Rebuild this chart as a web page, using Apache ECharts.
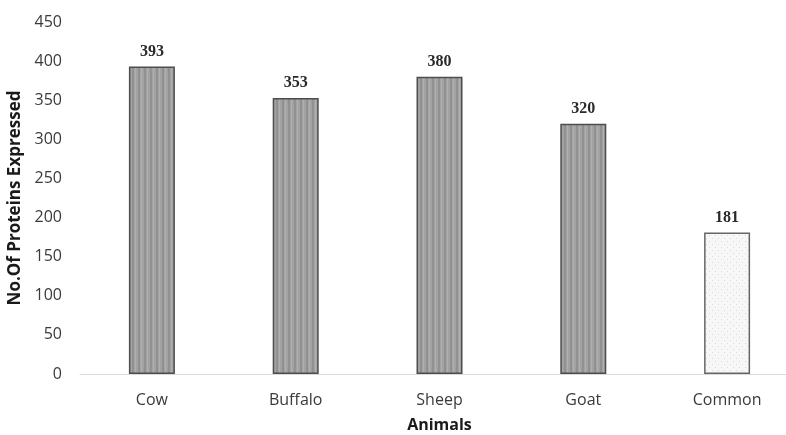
<!DOCTYPE html>
<html><head><meta charset="utf-8">
<script src="https://cdn.jsdelivr.net/npm/echarts@6/dist/echarts.min.js"></script>
<style>html,body{margin:0;padding:0;background:#fff}#c{width:786px;height:435px}</style>
</head><body><div id="c"></div>
<script>
var categories = ['Cow', 'Buffalo', 'Sheep', 'Goat', 'Common'];
var values = [393, 353, 380, 320, 181];
var yTicks = [0, 50, 100, 150, 200, 250, 300, 350, 400, 450];

function stripePattern() {
  var c = document.createElement('canvas'); c.width = 6; c.height = 6;
  var g = c.getContext('2d');
  g.fillStyle = '#a2a2a2'; g.fillRect(0, 0, 6, 6);
  g.fillStyle = '#919191'; g.fillRect(0, 0, 2, 6);
  g.fillStyle = '#b0b0b0'; g.fillRect(3, 0, 1, 6);
  return c;
}
function dotPattern() {
  var c = document.createElement('canvas'); c.width = 6; c.height = 6;
  var g = c.getContext('2d');
  g.fillStyle = '#f7f7f7'; g.fillRect(0, 0, 6, 6);
  g.fillStyle = '#dadada'; g.fillRect(1, 1, 1, 1); g.fillRect(4, 4, 1, 1);
  return c;
}
var stripe = {image: stripePattern(), repeat: 'repeat'};
var dots = {image: dotPattern(), repeat: 'repeat'};

var chart = echarts.init(document.getElementById('c'));
chart.setOption({
  animation: false,
  grid: {left: 80, top: 22, width: 719, height: 352, containLabel: false, outerBoundsMode: 'none'},
  xAxis: {
    type: 'category', data: categories,
    name: 'Animals', nameLocation: 'middle', nameGap: 43,
    nameTextStyle: {fontFamily: 'Open Sans', fontWeight: 'bold', fontSize: 16, color: '#1a1a1a'},
    axisLine: {lineStyle: {color: '#d9d9d9', width: 1}},
    axisTick: {show: false},
    axisLabel: {fontFamily: 'Open Sans', fontSize: 16, color: '#3a3a3a', margin: 18}
  },
  yAxis: {
    type: 'value', min: yTicks[0], max: yTicks[yTicks.length - 1], interval: 50,
    name: 'No.Of Proteins Expressed', nameLocation: 'middle', nameGap: 50,
    nameTextStyle: {fontFamily: 'Open Sans', fontWeight: 'bold', fontSize: 17, color: '#1a1a1a'},
    axisLine: {show: false}, axisTick: {show: false}, splitLine: {show: false},
    axisLabel: {fontFamily: 'Open Sans', fontSize: 16, color: '#3a3a3a', margin: 18}
  },
  series: [{
    type: 'bar', barWidth: 46,
    data: values.map(function (v, i) {
      var last = i === values.length - 1;
      return {value: v, itemStyle: {color: last ? dots : stripe, borderColor: last ? '#666' : '#4d4d4d', borderWidth: 1.5}};
    }),
    label: {show: true, position: 'top', distance: 7, fontFamily: 'Liberation Serif', fontWeight: 'bold', fontSize: 16, color: '#2a2a2a'}
  }]
});
</script></body></html>
